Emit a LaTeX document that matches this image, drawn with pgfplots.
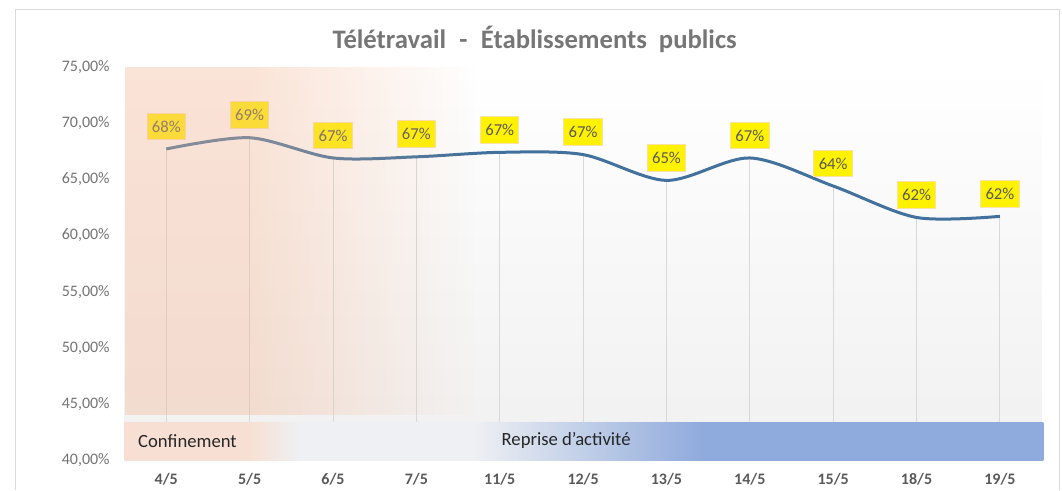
\documentclass[border=0pt]{standalone}
\usepackage{pgfplots}
\pgfplotsset{compat=1.18}
\usepackage{pgfplotstable}
\usepackage{fontspec}
\setmainfont{Carlito}
\usetikzlibrary{fadings}
\definecolor{linecol}{HTML}{41719C}
\definecolor{ovl}{HTML}{F4B896}
\definecolor{bpeach}{HTML}{F7E0D3}
\definecolor{bgray}{HTML}{EEF0F3}
\definecolor{bblue}{HTML}{8FAADC}
\definecolor{bggray}{HTML}{F0F0F0}
\definecolor{dropgray}{HTML}{D9D9D9}
\definecolor{framegray}{HTML}{D9D9D9}
\definecolor{titlegray}{HTML}{767676}
\definecolor{ylabgray}{HTML}{737373}
\definecolor{xlabgray}{HTML}{595959}
\definecolor{labgray}{HTML}{595959}
\definecolor{labborder}{HTML}{F9E1A8}
\definecolor{bandtext}{HTML}{262626}
\pgfdeclarehorizontalshading{bandshade}{100bp}{color(0bp)=(bpeach); color(25bp)=(bpeach); color(31.8bp)=(bpeach); color(34.5bp)=(bgray); color(44bp)=(bgray); color(56.5bp)=(bblue); color(100bp)=(bblue)}

\pgfplotstableread{
x y
0 67.7
1 68.7
2 66.9
3 67.0
4 67.4
5 67.2
6 64.9
7 66.9
8 64.4
9 61.6
10 61.7
}\datatable

\begin{document}
\begin{tikzpicture}
\draw[color=framegray, line width=0.75pt] (11.25pt,0pt) -- (11.25pt,360pt) -- (794.25pt,360pt) -- (794.25pt,0pt);
\node[anchor=base, font=\fontsize{20}{24}\selectfont\bfseries, text=titlegray, inner sep=0pt] at (401pt,331.3pt) {Télétravail\hspace{0.5em}-\hspace{0.5em}Établissements\hspace{0.45em}publics};
\begin{axis}[
  set layers,
  at={(93.45pt,22.5pt)}, anchor=south west,
  scale only axis, width=687.75pt, height=294.75pt,
  xmin=-0.5, xmax=10.5, ymin=40, ymax=75,
  xtick={0,...,10},
  xticklabels={4/5,5/5,6/5,7/5,11/5,12/5,13/5,14/5,15/5,18/5,19/5},
  ytick={40,45,...,75},
  yticklabel={\pgfmathprintnumber[assume math mode=true,fixed,fixed zerofill,precision=2,use comma]{\tick}\%},
  major tick length=0pt,
  axis x line*=bottom, axis y line*=left,
  x axis line style={draw=dropgray, line width=0.75pt},
  y axis line style={draw=none},
  axis background/.style={shade, top color=white, bottom color=bggray},
  xticklabel style={font=\fontsize{12}{14}\selectfont\bfseries, text=xlabgray, inner sep=0pt, yshift=-9.5pt},
  yticklabel style={font=\fontsize{12}{14}\selectfont, text=ylabgray, inner sep=0pt, xshift=-11pt},
]
\addplot[ycomb, color=dropgray, line width=0.75pt, mark=none] table[x=x,y=y]{\datatable};
\addplot[color=linecol, line width=2.25pt, smooth, tension=0.5, mark=none,
  point meta=y,
  nodes near coords={\pgfmathprintnumber[assume math mode=true,fixed,precision=0]{\pgfplotspointmeta}\%},
  every node near coord/.append style={font=\fontsize{12.5}{14}\selectfont, text=labgray, fill=yellow, draw=labborder, line width=0.75pt, inner xsep=3.6pt, inner ysep=0pt, minimum height=20pt, anchor=south, yshift=6.5pt}
] table[x=x,y=y]{\datatable};
\begin{pgfonlayer}{axis foreground}
\fill[ovl, fill opacity=0.38] (axis cs:-0.5,44.0) rectangle (axis cs:1.0,75);
\fill[ovl, fill opacity=0.38, path fading=east] (axis cs:1.0,44.0) rectangle (axis cs:3.7,75);
\shade[shading=bandshade] (axis cs:-0.5,40) rectangle (axis cs:10.52,43.3);
\node[anchor=west, font=\fontsize{14}{16}\selectfont, text=bandtext, inner sep=0pt] at (axis cs:-0.34,41.7) {Confinement};
\node[anchor=west, font=\fontsize{14}{16}\selectfont, text=bandtext, inner sep=0pt] at (axis cs:4.02,41.7) {Reprise d'activité};
\end{pgfonlayer}
\end{axis}
\pgfresetboundingbox
\path[use as bounding box] (0,0) rectangle (796.5pt,367.5pt);
\end{tikzpicture}
\end{document}
